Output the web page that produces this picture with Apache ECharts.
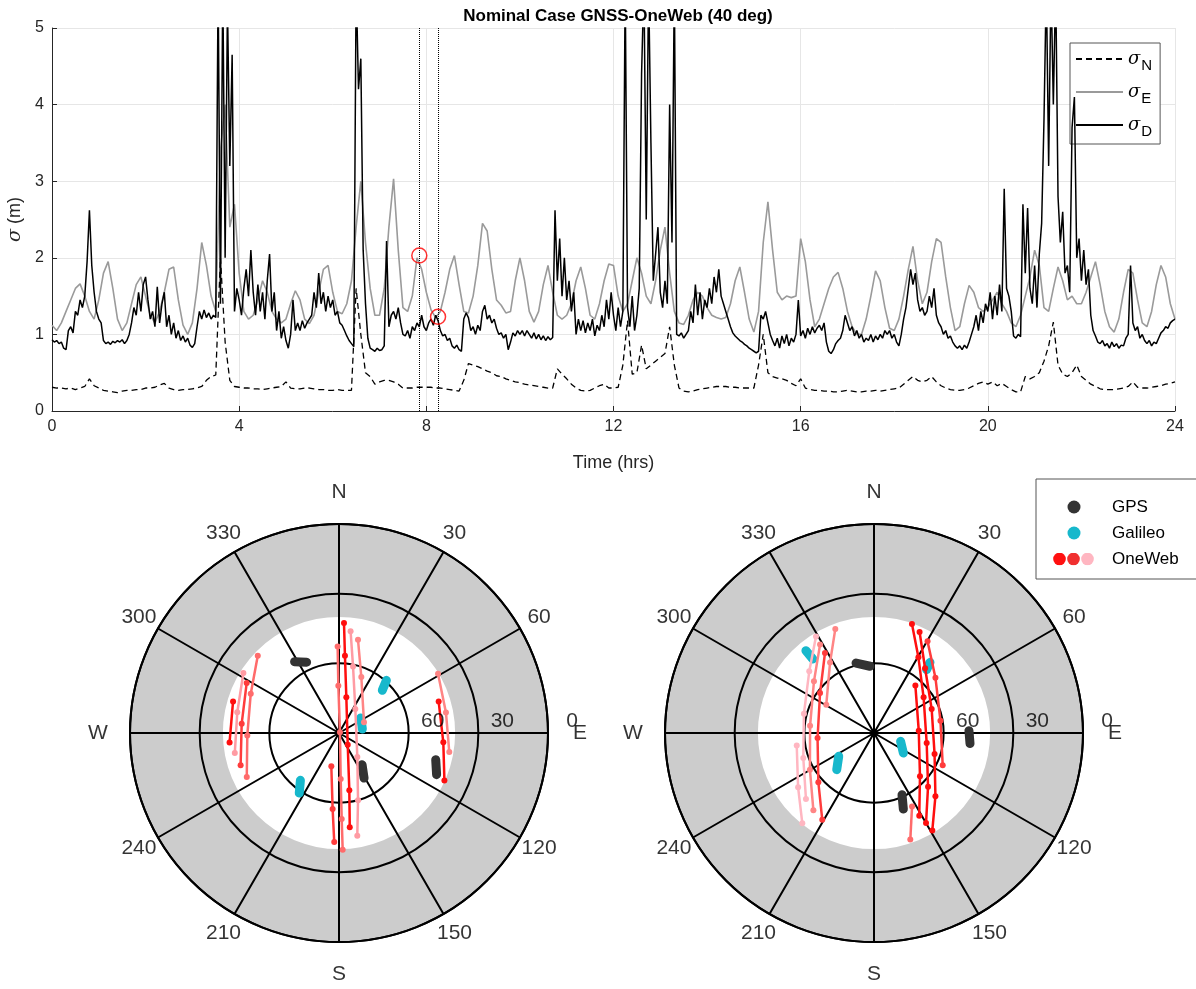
<!DOCTYPE html>
<html>
<head>
<meta charset="utf-8">
<script src="https://cdn.jsdelivr.net/npm/echarts@6/dist/echarts.min.js"></script>
<style>
  html, body { margin: 0; padding: 0; background: #fff; }
  #chart { width: 1196px; height: 989px; }
</style>
</head>
<body>
<div id="chart"></div>
<script>
// ---- time series (sigma in metres), sampled every stepD / stepEN hours ----
const stepD = 0.05
const stepEN = 0.1
const xTicks = [0, 4, 8, 12, 16, 20, 24]

const sigmaD = [
  0.93,0.90,0.92,0.88,0.90,0.82,0.80,1.05,1.10,1.02,1.30,1.25,1.45,1.35,1.50,1.95,2.62,1.90,1.55,1.30,
  1.20,1.15,0.92,0.88,0.90,0.87,0.91,0.89,0.92,0.90,0.93,0.88,0.92,1.00,1.15,1.35,1.25,1.55,1.30,1.65,
  1.75,1.45,1.20,1.30,1.10,1.62,1.15,1.40,1.55,1.10,1.25,1.00,1.15,0.95,1.05,0.92,0.98,0.90,0.95,0.86,
  0.83,0.88,1.10,1.30,1.20,1.32,1.22,1.28,1.20,1.25,1.22,5.60,1.40,5.60,2.00,5.30,3.20,4.65,1.30,1.60,
  1.45,1.25,1.60,1.85,1.50,2.10,1.55,1.25,1.65,1.30,1.55,1.20,1.70,2.05,1.30,1.55,1.05,1.30,0.95,1.10,
  0.92,0.82,1.00,1.45,1.05,1.15,1.05,1.18,1.08,1.15,1.20,1.25,1.55,1.35,1.80,1.40,1.55,1.30,1.50,1.35,
  1.45,1.25,1.30,1.15,1.12,1.05,0.98,0.92,0.88,0.84,5.60,4.20,4.60,2.10,1.40,0.95,0.82,0.80,0.78,0.82,
  0.79,0.80,0.85,2.22,1.10,1.25,1.30,1.20,1.35,1.15,1.00,0.98,1.05,0.95,1.10,1.05,1.15,1.10,1.25,1.10,
  1.05,1.15,1.20,1.12,1.25,1.18,1.05,0.98,1.00,0.92,0.95,0.85,0.82,0.86,0.80,0.78,1.20,1.28,1.22,1.05,
  1.10,1.00,1.12,1.05,1.30,1.38,1.20,1.25,1.15,1.20,1.08,1.00,1.02,0.95,1.00,0.80,0.90,1.02,0.98,1.05,
  1.00,1.05,0.98,1.05,1.00,0.95,1.02,0.94,1.00,0.93,0.98,0.92,0.97,0.93,0.96,2.62,1.70,2.25,1.50,2.00,
  1.45,1.70,1.30,1.55,1.00,1.20,1.05,1.18,1.02,1.15,1.05,1.20,0.98,1.12,1.05,1.25,1.10,1.45,1.20,1.55,
  1.25,1.05,1.35,1.10,1.30,5.60,1.35,1.10,1.50,1.05,1.25,1.60,4.40,5.60,2.50,5.60,3.50,1.70,2.05,2.40,
  1.55,1.35,1.70,1.40,4.00,2.20,5.60,1.00,0.98,1.02,0.95,1.00,1.05,1.30,1.15,1.65,1.25,1.55,1.20,1.45,
  1.35,1.60,1.40,1.75,1.55,1.85,1.50,1.40,1.30,1.20,1.10,1.02,0.98,0.95,0.92,0.90,0.87,0.85,0.82,0.80,
  0.78,0.76,0.78,1.25,1.20,1.30,1.15,1.00,0.92,0.85,0.95,0.82,0.98,0.88,1.00,0.85,0.95,0.90,1.00,1.45,
  0.98,1.05,0.95,1.08,1.00,1.10,1.02,1.08,1.12,1.05,1.15,0.90,0.78,0.75,0.80,0.88,0.92,0.95,1.05,1.25,
  1.15,1.05,1.10,0.98,1.05,0.95,1.00,0.90,0.95,0.92,1.00,0.90,0.98,0.93,1.00,0.95,1.05,1.00,1.05,0.95,
  1.00,0.90,0.85,1.00,1.20,1.35,1.60,1.85,1.65,1.80,1.45,1.30,1.35,1.25,1.30,1.50,1.35,1.60,1.25,1.15,
  1.10,1.00,1.05,0.95,0.98,0.90,0.85,0.82,0.85,0.80,0.86,0.82,0.90,1.00,1.10,1.25,1.05,1.30,1.15,1.40,
  1.30,1.55,1.20,1.50,1.25,1.65,1.30,2.90,1.60,1.50,1.30,0.98,0.95,1.00,0.97,2.70,1.80,2.65,1.60,1.40,
  1.90,1.35,2.05,2.45,3.80,5.60,3.20,5.60,4.00,5.60,2.80,2.20,2.60,1.80,1.90,1.55,3.70,4.10,2.00,2.25,
  1.70,2.10,1.65,1.85,1.25,1.05,0.98,0.90,0.88,0.92,0.85,0.88,0.82,0.90,0.84,0.88,0.82,0.86,0.85,0.95,
  1.00,1.90,1.15,1.05,1.10,0.95,1.00,0.92,0.88,0.92,0.85,0.90,0.88,0.95,1.02,1.05,1.10,1.08,1.15,1.18,
  1.20
]

const sigmaE = [
  1.12,1.05,1.15,1.30,1.45,1.60,1.66,1.50,1.30,1.20,
  1.45,1.80,1.95,1.60,1.20,1.05,1.15,1.40,1.65,1.75,
  1.50,1.25,1.15,1.30,1.55,1.85,1.88,1.45,1.12,1.00,
  1.15,1.60,2.20,1.90,1.50,1.30,3.40,4.00,2.40,2.70,
  1.80,1.30,1.20,1.25,1.45,1.70,1.55,1.30,1.20,1.15,
  1.20,1.40,1.57,1.45,1.20,1.14,1.25,1.55,1.85,1.90,
  1.55,1.30,1.27,1.40,1.70,2.40,3.00,2.20,1.60,1.25,
  1.25,1.60,2.40,3.03,2.10,1.35,1.30,1.50,2.00,1.85,
  1.55,1.32,1.22,1.30,1.55,1.85,2.03,1.65,1.30,1.28,
  1.50,1.90,2.45,2.35,1.85,1.45,1.38,1.28,1.30,1.70,
  2.00,1.70,1.30,1.16,1.30,1.65,1.90,1.55,1.25,1.20,
  1.25,1.40,1.70,1.88,1.60,1.25,1.20,1.40,1.70,1.92,
  1.90,1.50,1.30,1.40,1.70,2.00,1.80,1.50,1.40,1.70,
  2.10,2.40,1.80,1.30,1.15,1.13,1.25,1.45,1.55,1.50,
  1.35,1.25,1.22,1.20,1.22,1.40,1.70,1.88,1.55,1.20,
  1.03,1.30,2.20,2.73,2.10,1.55,1.45,1.50,1.48,1.50,
  2.25,1.95,1.45,1.10,1.20,1.40,1.60,1.75,1.81,1.60,
  1.30,1.10,1.00,1.00,1.20,1.50,1.83,1.70,1.35,1.08,
  1.05,1.20,1.50,1.85,2.15,1.70,1.40,1.55,1.95,2.25,
  2.20,1.75,1.35,1.05,1.10,1.40,1.64,1.55,1.35,1.30,
  1.35,1.45,1.55,1.40,1.30,1.15,1.10,1.25,1.50,1.75,
  2.10,1.90,1.35,1.30,1.60,1.88,1.70,1.45,1.50,1.40,
  1.40,1.55,1.75,1.95,1.65,1.30,1.10,1.03,1.20,1.55,
  1.85,1.80,1.45,1.15,1.10,1.30,1.65,1.90,1.75,1.40,
  1.20
]

const sigmaN = [
  0.31,0.30,0.30,0.29,0.30,0.28,0.30,0.32,0.42,0.33,
  0.30,0.27,0.26,0.25,0.24,0.26,0.27,0.27,0.28,0.28,
  0.30,0.30,0.31,0.34,0.36,0.30,0.28,0.27,0.28,0.28,
  0.29,0.30,0.32,0.40,0.45,0.47,2.00,0.90,0.40,0.32,
  0.31,0.30,0.30,0.29,0.29,0.28,0.29,0.30,0.31,0.32,
  0.38,0.30,0.29,0.29,0.30,0.30,0.29,0.28,0.28,0.27,
  0.27,0.28,0.27,0.27,0.27,1.60,1.00,0.50,0.45,0.35,
  0.38,0.40,0.40,0.38,0.35,0.30,0.30,0.30,0.31,0.31,
  0.31,0.31,0.30,0.30,0.29,0.28,0.27,0.26,0.40,0.62,
  0.60,0.58,0.55,0.52,0.50,0.46,0.45,0.42,0.40,0.38,
  0.37,0.35,0.34,0.33,0.32,0.31,0.30,0.30,0.55,0.48,
  0.42,0.35,0.30,0.27,0.26,0.27,0.30,0.33,0.35,0.30,
  0.30,0.31,0.60,1.18,0.48,0.50,0.86,0.55,0.60,0.65,
  0.70,0.75,1.10,0.60,0.30,0.26,0.25,0.26,0.28,0.29,
  0.30,0.31,0.32,0.32,0.32,0.31,0.31,0.30,0.30,0.30,
  0.30,0.60,1.00,0.50,0.45,0.43,0.42,0.40,0.36,0.33,
  0.42,0.30,0.28,0.27,0.27,0.26,0.26,0.25,0.25,0.26,
  0.27,0.26,0.25,0.25,0.26,0.26,0.27,0.26,0.27,0.28,
  0.29,0.30,0.35,0.40,0.45,0.40,0.38,0.40,0.45,0.38,
  0.33,0.30,0.28,0.27,0.27,0.28,0.30,0.33,0.36,0.38,
  0.35,0.38,0.33,0.36,0.32,0.28,0.25,0.25,0.45,0.42,
  0.45,0.50,0.65,0.85,1.16,0.60,0.48,0.45,0.50,0.60,
  0.45,0.40,0.35,0.32,0.29,0.28,0.28,0.28,0.29,0.30,
  0.32,0.38,0.31,0.30,0.30,0.31,0.32,0.33,0.35,0.36,
  0.38
]

// the two epochs shown in the sky plots, and the marked sigma_E values
const epochTimes = [7.85, 8.25]
const epochSigmaE = [2.03, 1.23]

// ---- sky plots: points are [elevation deg, azimuth deg] ----
const maskElev = 40
const elevTicks = [60, 30, 0]
const azTicks = [30, 60, 120, 150, 210, 240, 300, 330]
const azCardinal = [0, 90, 180, 270]
const azNames = { 0: 'N', 90: 'E', 180: 'S', 270: 'W' }

const leftOneWeb = [
  [[42.6, 2.6], [56.6, 4.4], [74.3, 11.6], [83.7, 143.4], [64.9, 169.8], [49.1, 173.5]],
  [[52.7, 359.1], [69.6, 359.2], [89.5, 56], [70.2, 177.9], [53.0, 178.2], [39.7, 178.2]],
  [[45.9, 6.5], [60.7, 11.9], [77.5, 34.2], [77.0, 142.6], [59.9, 164.2], [45.1, 169.9]],
  [[49.0, 11.5], [64.0, 21.7], [78.3, 66.9]],
  [[75.3, 193.0], [57.2, 184.8], [43.0, 182.5]],
  [[42.4, 286.6], [42.7, 265.1]],
  [[41.4, 302.1], [45.3, 281.5], [44.3, 259.1]],
  [[44.8, 298.4], [47.9, 275.5], [45.4, 251.8]],
  [[41.7, 313.6], [48.4, 294.0], [50.5, 268.5], [46.0, 244.5]],
  [[40.3, 59.1], [43.1, 79.1], [41.8, 99.8]],
  [[45.0, 72.5], [44.9, 95.1], [40.2, 114.3]]
]
const leftOneWebPlane = [0, 2, 4, 3, 1, 0, 4, 1, 2, 3, 0]

const rightOneWeb = [
  [[40.3, 19.2], [52.2, 30.4], [63.7, 54.3], [66.9, 100.8], [57.2, 134.8], [45.2, 150.0]],
  [[42.3, 24.3], [54.5, 38.3], [63.1, 67.4], [62.4, 109.1], [52.0, 135.9], [41.1, 149.1]],
  [[44.3, 30.3], [54.4, 48.0], [60.9, 79.5], [57.3, 115.2]],
  [[62.9, 41.1], [70.7, 87.0], [62.8, 133.3], [49.4, 151.3]],
  [[54.4, 152.6], [41.5, 161.2]],
  [[49.6, 328.5], [61.1, 306.5], [65.6, 264.9], [58.0, 228.5], [46.5, 210.8]],
  [[45.4, 328.6], [55.9, 310.7], [62.3, 276.5], [58.2, 240.2], [47.7, 218.1]],
  [[41.5, 329.0], [51.5, 313.6], [58.7, 285.4], [57.7, 250.5], [49.2, 225.9]],
  [[56.3, 260.9], [49.8, 234.4], [40.4, 218.5]],
  [[42.2, 339.6], [54.2, 328.1], [66.1, 300.7]]
]
const rightOneWebPlane = [0, 0, 1, 0, 2, 1, 3, 5, 5, 3]

const leftGps = [
  [[53.8, 328.1], [56.5, 335.4]],
  [[73.1, 144.0], [67.8, 150.9]],
  [[46.8, 105.4], [44.3, 113.1]]
]
const leftGalileo = [
  [[63.8, 45.4], [59.5, 42.0]],
  [[78.6, 55.3], [79.8, 80.3]],
  [[63.7, 219.2], [59.0, 213.5]]
]
const rightGps = [
  [[58.9, 345.6], [61.2, 356.6]],
  [[49.1, 88.6], [48.4, 96.3]],
  [[60.8, 155.6], [54.9, 158.9]]
]
const rightGalileo = [
  [[44.0, 320.4], [48.6, 320.4]],
  [[51.2, 38.4], [54.5, 39.7]],
  [[78.0, 107.4], [74.7, 124.3]],
  [[71.8, 236.6], [67.5, 225.5]]
]

// ---- styling ----
const FONT = '"Liberation Sans", Arial, Helvetica, sans-serif'
const TXT = '#262626'
const oneWebPalette = ['#ff0f0f', '#ff3c3c', '#ff6b6b', '#ff8585', '#ff9ba3', '#ffb6c1']
const gpsColor = '#333333'
const galColor = '#17b8cc'
// label rings just outside the horizon (elevation below 0 on the same scale)
const numLabelElev = -9.5
const dirLabelElev = -13.8
const skyCenters = [[339, 733], [874, 733]]

const pairs = (vals, step) => vals.map((v, i) => [+(i * step).toFixed(2), v])

const oneWebIcon = 'image://data:image/svg+xml;charset=utf-8,' + encodeURIComponent(
  '<svg xmlns="http://www.w3.org/2000/svg" width="42" height="13">' +
  '<circle cx="6.5" cy="6.5" r="6.3" fill="#ff1010"/>' +
  '<circle cx="20.5" cy="6.5" r="6.3" fill="#f03030"/>' +
  '<circle cx="34.5" cy="6.5" r="6.3" fill="#ffb6c1"/></svg>')

const chart = echarts.init(document.getElementById('chart'))

function labelSeries(pi, data, fmt, offset) {
  return {
    type: 'scatter', coordinateSystem: 'polar', polarIndex: pi, silent: true, clip: false,
    symbolSize: 0, data, z: 5,
    label: {
      show: true, position: 'inside', offset, color: '#000', fontSize: 21, fontFamily: FONT,
      formatter: fmt
    }
  }
}

// ---- sky plot series ----
function skySeries(pi, oneWeb, planes, gps, gal) {
  const out = []
  // elevation-mask band, drawn through the polar scale
  out.push({
    type: 'custom', coordinateSystem: 'polar', polarIndex: pi, z: -1, silent: true,
    data: [[maskElev, 0]],
    renderItem(params, api) {
      const c = api.coord([90, 0])
      const pin = api.coord([api.value(0), 0])
      const pout = api.coord([0, 0])
      return {
        type: 'ring',
        shape: {
          cx: c[0], cy: c[1],
          r: Math.hypot(pout[0] - c[0], pout[1] - c[1]),
          r0: Math.hypot(pin[0] - c[0], pin[1] - c[1])
        },
        style: { fill: '#cccccc' }
      }
    }
  })
  gps.forEach(b => out.push({
    name: 'GPS', type: 'line', coordinateSystem: 'polar', polarIndex: pi, data: b,
    symbol: 'none', silent: true, z: 3,
    lineStyle: { width: 9, color: gpsColor, cap: 'round' }, itemStyle: { color: gpsColor }
  }))
  gal.forEach(b => out.push({
    name: 'Galileo', type: 'line', coordinateSystem: 'polar', polarIndex: pi, data: b,
    symbol: 'none', silent: true, z: 3,
    lineStyle: { width: 9, color: galColor, cap: 'round' }, itemStyle: { color: galColor }
  }))
  oneWeb.forEach((t, k) => {
    const col = oneWebPalette[planes[k]]
    out.push({
      name: 'OneWeb', type: 'line', coordinateSystem: 'polar', polarIndex: pi, data: t,
      symbol: 'circle', symbolSize: 6, showSymbol: true, silent: true, z: 4,
      lineStyle: { width: 2.5, color: col }, itemStyle: { color: col }
    })
  })
  out.push(labelSeries(pi, azTicks.map(a => [numLabelElev, a]), p => String(p.value[1]), [0, 0]))
  out.push(labelSeries(pi, azCardinal.map(a => [dirLabelElev, a]), p => azNames[p.value[1]], [0, 0]))
  out.push(labelSeries(pi, elevTicks.map(e => [e, 90]), p => String(p.value[0]), [24, -12]))
  return out
}

const polarAxis = (i) => ({
  angle: {
    polarIndex: i, type: 'value', min: 0, max: 360, interval: 30, startAngle: 90, clockwise: true,
    axisLine: { lineStyle: { color: '#000', width: 2 } },
    axisTick: { show: false }, axisLabel: { show: false },
    splitLine: { lineStyle: { color: '#000', width: 2 } }
  },
  radius: {
    polarIndex: i, type: 'value', min: 0, max: 90, interval: 30, inverse: true,
    axisLine: { show: false }, axisTick: { show: false }, axisLabel: { show: false },
    splitLine: { lineStyle: { color: '#000', width: 2 } }
  }
})

const option = {
  animation: false,
  textStyle: { fontFamily: FONT },
  title: {
    text: 'Nominal Case GNSS-OneWeb (40 deg)',
    left: 613, top: 3, textAlign: 'center',
    textStyle: { fontSize: 17, fontWeight: 'bold', color: '#000', fontFamily: FONT }
  },
  legend: [
    {
      data: ['N', 'E', 'D'],
      orient: 'vertical', left: 1070, top: 43,
      padding: [7, 8, 5, 5], itemGap: 10, itemWidth: 47, itemHeight: 14,
      borderColor: '#555', borderWidth: 1, borderRadius: 0, backgroundColor: '#fff',
      selectedMode: false,
      itemStyle: { opacity: 0 },
      formatter: n => '{s|σ}{b|' + n + '}',
      textStyle: {
        color: '#000',
        rich: {
          s: { fontSize: 18, fontStyle: 'italic', fontFamily: '"DejaVu Serif", serif', color: '#000' },
          b: { fontSize: 15, fontFamily: FONT, color: '#000', padding: [13, 0, 0, 1] }
        }
      }
    },
    {
      data: [
        { name: 'GPS', icon: 'circle' },
        { name: 'Galileo', icon: 'circle' },
        { name: 'OneWeb', icon: oneWebIcon }
      ],
      orient: 'vertical', left: 1036, top: 479,
      padding: [16, 25, 8, 17], itemGap: 2, itemWidth: 42, itemHeight: 13,
      borderColor: '#555', borderWidth: 1, borderRadius: 0, backgroundColor: '#fff',
      selectedMode: false,
      textStyle: { fontSize: 17, lineHeight: 24, color: '#000', padding: [0, 0, 0, 12] }
    }
  ],
  grid: { left: 52, right: 21, top: 28, bottom: 578, outerBoundsMode: 'none' },
  xAxis: {
    type: 'value', min: 0, max: 24, interval: 4,
    name: 'Time (hrs)', nameLocation: 'middle', nameGap: 43,
    nameTextStyle: { fontSize: 18, color: TXT },
    axisLine: { lineStyle: { color: TXT, width: 1 } },
    axisTick: { inside: true, length: 5, lineStyle: { color: TXT } },
    axisLabel: { fontSize: 16, color: TXT, margin: 8, customValues: xTicks },
    splitLine: { show: true, lineStyle: { color: '#e6e6e6', width: 1 } }
  },
  yAxis: {
    type: 'value', min: 0, max: 5, interval: 1,
    name: '{i|σ} (m)', nameLocation: 'middle', nameGap: 20, nameRotate: 90,
    nameTextStyle: {
      fontSize: 18, color: TXT,
      rich: { i: { fontSize: 19, fontStyle: 'italic', fontFamily: '"DejaVu Serif", serif', color: TXT } }
    },
    axisLine: { show: true, lineStyle: { color: TXT, width: 1 } },
    axisTick: { show: true, inside: true, length: 5, lineStyle: { color: TXT } },
    axisLabel: { fontSize: 16, color: TXT, margin: 8 },
    splitLine: { show: true, lineStyle: { color: '#e6e6e6', width: 1 } }
  },
  polar: skyCenters.map(c => ({ center: c, radius: 209 })),
  angleAxis: [0, 1].map(i => polarAxis(i).angle),
  radiusAxis: [0, 1].map(i => polarAxis(i).radius),
  series: [
    {
      name: 'N', type: 'line', data: pairs(sigmaN, stepEN), symbol: 'none', silent: true,
      lineStyle: { color: '#000', width: 1.3, type: [6, 4] }, itemStyle: { color: '#000' }, z: 2
    },
    {
      name: 'E', type: 'line', data: pairs(sigmaE, stepEN), symbol: 'none', silent: true,
      lineStyle: { color: '#9a9a9a', width: 1.6 }, itemStyle: { color: '#9a9a9a' }, z: 3,
      markLine: {
        silent: true, symbol: 'none', label: { show: false },
        lineStyle: { color: '#000', type: 'dotted', width: 1 },
        data: epochTimes.map(t => ({ xAxis: t }))
      }
    },
    {
      name: 'D', type: 'line', data: pairs(sigmaD, stepD), symbol: 'none', silent: true,
      lineStyle: { color: '#000', width: 1.5 }, itemStyle: { color: '#000' }, z: 4
    },
    {
      type: 'scatter', silent: true, z: 6,
      data: epochTimes.map((t, i) => [t, epochSigmaE[i]]),
      symbol: 'circle', symbolSize: 15,
      itemStyle: { color: 'rgba(0,0,0,0)', borderColor: '#ff0000', borderWidth: 1.5 }
    },
    ...skySeries(0, leftOneWeb, leftOneWebPlane, leftGps, leftGalileo),
    ...skySeries(1, rightOneWeb, rightOneWebPlane, rightGps, rightGalileo)
  ]
}

chart.setOption(option)
</script>
</body>
</html>
